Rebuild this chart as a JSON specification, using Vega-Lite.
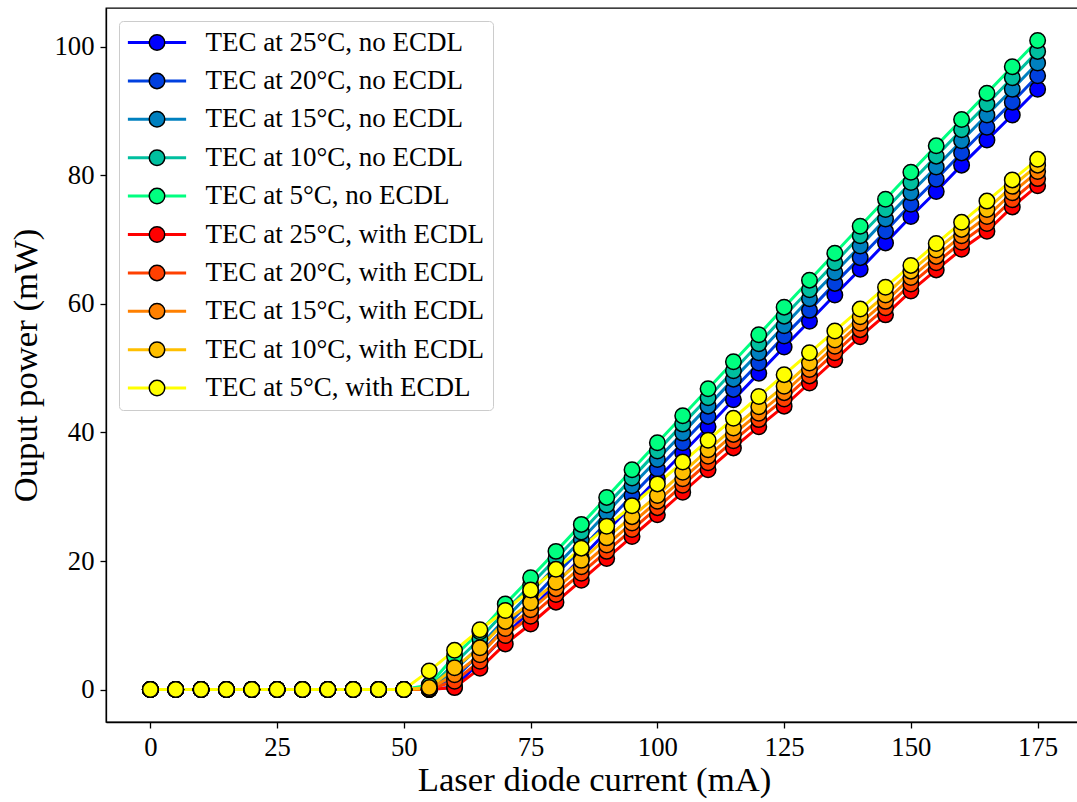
{
"$schema": "https://vega.github.io/schema/vega-lite/v6.json",
"width": 976,
"height": 714,
"autosize": {"type": "none"},
"padding": {"left": 106, "top": 8, "right": 0, "bottom": 80},
"background": "white",
"config": {
  "font": "Liberation Serif",
  "view": {"stroke": "black", "strokeWidth": 1.3},
  "axis": {"grid": false, "domainColor": "black", "domainWidth": 1.3, "tickColor": "black", "tickWidth": 1.3, "tickSize": 6, "labelFont": "Liberation Serif", "labelFontSize": 26.7, "labelColor": "black", "titleFont": "Liberation Serif", "titleFontSize": 34.7, "titleFontWeight": "normal", "titleColor": "black"}
},
"data": {"values": [
{"s":"TEC at 25°C, no ECDL","x":0,"y":0},{"s":"TEC at 25°C, no ECDL","x":5,"y":0},{"s":"TEC at 25°C, no ECDL","x":10,"y":0},{"s":"TEC at 25°C, no ECDL","x":15,"y":0},{"s":"TEC at 25°C, no ECDL","x":20,"y":0},{"s":"TEC at 25°C, no ECDL","x":25,"y":0},{"s":"TEC at 25°C, no ECDL","x":30,"y":0},{"s":"TEC at 25°C, no ECDL","x":35,"y":0},{"s":"TEC at 25°C, no ECDL","x":40,"y":0},{"s":"TEC at 25°C, no ECDL","x":45,"y":0},{"s":"TEC at 25°C, no ECDL","x":50,"y":0},{"s":"TEC at 25°C, no ECDL","x":55,"y":0},{"s":"TEC at 25°C, no ECDL","x":60,"y":0.4},{"s":"TEC at 25°C, no ECDL","x":65,"y":4.3},{"s":"TEC at 25°C, no ECDL","x":70,"y":8.4},{"s":"TEC at 25°C, no ECDL","x":75,"y":12.4},{"s":"TEC at 25°C, no ECDL","x":80,"y":16.5},{"s":"TEC at 25°C, no ECDL","x":85,"y":20.5},{"s":"TEC at 25°C, no ECDL","x":90,"y":24.6},{"s":"TEC at 25°C, no ECDL","x":95,"y":28.7},{"s":"TEC at 25°C, no ECDL","x":100,"y":32.8},{"s":"TEC at 25°C, no ECDL","x":105,"y":36.8},{"s":"TEC at 25°C, no ECDL","x":110,"y":40.9},{"s":"TEC at 25°C, no ECDL","x":115,"y":45.1},{"s":"TEC at 25°C, no ECDL","x":120,"y":49.2},{"s":"TEC at 25°C, no ECDL","x":125,"y":53.3},{"s":"TEC at 25°C, no ECDL","x":130,"y":57.3},{"s":"TEC at 25°C, no ECDL","x":135,"y":61.4},{"s":"TEC at 25°C, no ECDL","x":140,"y":65.4},{"s":"TEC at 25°C, no ECDL","x":145,"y":69.5},{"s":"TEC at 25°C, no ECDL","x":150,"y":73.6},{"s":"TEC at 25°C, no ECDL","x":155,"y":77.5},{"s":"TEC at 25°C, no ECDL","x":160,"y":81.6},{"s":"TEC at 25°C, no ECDL","x":165,"y":85.5},{"s":"TEC at 25°C, no ECDL","x":170,"y":89.4},{"s":"TEC at 25°C, no ECDL","x":175,"y":93.4},
{"s":"TEC at 20°C, no ECDL","x":0,"y":0},{"s":"TEC at 20°C, no ECDL","x":5,"y":0},{"s":"TEC at 20°C, no ECDL","x":10,"y":0},{"s":"TEC at 20°C, no ECDL","x":15,"y":0},{"s":"TEC at 20°C, no ECDL","x":20,"y":0},{"s":"TEC at 20°C, no ECDL","x":25,"y":0},{"s":"TEC at 20°C, no ECDL","x":30,"y":0},{"s":"TEC at 20°C, no ECDL","x":35,"y":0},{"s":"TEC at 20°C, no ECDL","x":40,"y":0},{"s":"TEC at 20°C, no ECDL","x":45,"y":0},{"s":"TEC at 20°C, no ECDL","x":50,"y":0},{"s":"TEC at 20°C, no ECDL","x":55,"y":0},{"s":"TEC at 20°C, no ECDL","x":60,"y":1.7},{"s":"TEC at 20°C, no ECDL","x":65,"y":5.6},{"s":"TEC at 20°C, no ECDL","x":70,"y":9.7},{"s":"TEC at 20°C, no ECDL","x":75,"y":13.8},{"s":"TEC at 20°C, no ECDL","x":80,"y":17.9},{"s":"TEC at 20°C, no ECDL","x":85,"y":21.9},{"s":"TEC at 20°C, no ECDL","x":90,"y":26.0},{"s":"TEC at 20°C, no ECDL","x":95,"y":30.2},{"s":"TEC at 20°C, no ECDL","x":100,"y":34.3},{"s":"TEC at 20°C, no ECDL","x":105,"y":38.4},{"s":"TEC at 20°C, no ECDL","x":110,"y":42.5},{"s":"TEC at 20°C, no ECDL","x":115,"y":46.7},{"s":"TEC at 20°C, no ECDL","x":120,"y":50.8},{"s":"TEC at 20°C, no ECDL","x":125,"y":55.0},{"s":"TEC at 20°C, no ECDL","x":130,"y":59.0},{"s":"TEC at 20°C, no ECDL","x":135,"y":63.2},{"s":"TEC at 20°C, no ECDL","x":140,"y":67.2},{"s":"TEC at 20°C, no ECDL","x":145,"y":71.3},{"s":"TEC at 20°C, no ECDL","x":150,"y":75.5},{"s":"TEC at 20°C, no ECDL","x":155,"y":79.4},{"s":"TEC at 20°C, no ECDL","x":160,"y":83.5},{"s":"TEC at 20°C, no ECDL","x":165,"y":87.5},{"s":"TEC at 20°C, no ECDL","x":170,"y":91.4},{"s":"TEC at 20°C, no ECDL","x":175,"y":95.5},
{"s":"TEC at 15°C, no ECDL","x":0,"y":0},{"s":"TEC at 15°C, no ECDL","x":5,"y":0},{"s":"TEC at 15°C, no ECDL","x":10,"y":0},{"s":"TEC at 15°C, no ECDL","x":15,"y":0},{"s":"TEC at 15°C, no ECDL","x":20,"y":0},{"s":"TEC at 15°C, no ECDL","x":25,"y":0},{"s":"TEC at 15°C, no ECDL","x":30,"y":0},{"s":"TEC at 15°C, no ECDL","x":35,"y":0},{"s":"TEC at 15°C, no ECDL","x":40,"y":0},{"s":"TEC at 15°C, no ECDL","x":45,"y":0},{"s":"TEC at 15°C, no ECDL","x":50,"y":0},{"s":"TEC at 15°C, no ECDL","x":55,"y":0},{"s":"TEC at 15°C, no ECDL","x":60,"y":3.0},{"s":"TEC at 15°C, no ECDL","x":65,"y":6.8},{"s":"TEC at 15°C, no ECDL","x":70,"y":11.0},{"s":"TEC at 15°C, no ECDL","x":75,"y":15.1},{"s":"TEC at 15°C, no ECDL","x":80,"y":19.2},{"s":"TEC at 15°C, no ECDL","x":85,"y":23.3},{"s":"TEC at 15°C, no ECDL","x":90,"y":27.5},{"s":"TEC at 15°C, no ECDL","x":95,"y":31.7},{"s":"TEC at 15°C, no ECDL","x":100,"y":35.8},{"s":"TEC at 15°C, no ECDL","x":105,"y":39.9},{"s":"TEC at 15°C, no ECDL","x":110,"y":44.1},{"s":"TEC at 15°C, no ECDL","x":115,"y":48.3},{"s":"TEC at 15°C, no ECDL","x":120,"y":52.4},{"s":"TEC at 15°C, no ECDL","x":125,"y":56.6},{"s":"TEC at 15°C, no ECDL","x":130,"y":60.8},{"s":"TEC at 15°C, no ECDL","x":135,"y":64.9},{"s":"TEC at 15°C, no ECDL","x":140,"y":69.0},{"s":"TEC at 15°C, no ECDL","x":145,"y":73.2},{"s":"TEC at 15°C, no ECDL","x":150,"y":77.3},{"s":"TEC at 15°C, no ECDL","x":155,"y":81.3},{"s":"TEC at 15°C, no ECDL","x":160,"y":85.4},{"s":"TEC at 15°C, no ECDL","x":165,"y":89.4},{"s":"TEC at 15°C, no ECDL","x":170,"y":93.4},{"s":"TEC at 15°C, no ECDL","x":175,"y":97.5},
{"s":"TEC at 10°C, no ECDL","x":0,"y":0},{"s":"TEC at 10°C, no ECDL","x":5,"y":0},{"s":"TEC at 10°C, no ECDL","x":10,"y":0},{"s":"TEC at 10°C, no ECDL","x":15,"y":0},{"s":"TEC at 10°C, no ECDL","x":20,"y":0},{"s":"TEC at 10°C, no ECDL","x":25,"y":0},{"s":"TEC at 10°C, no ECDL","x":30,"y":0},{"s":"TEC at 10°C, no ECDL","x":35,"y":0},{"s":"TEC at 10°C, no ECDL","x":40,"y":0},{"s":"TEC at 10°C, no ECDL","x":45,"y":0},{"s":"TEC at 10°C, no ECDL","x":50,"y":0},{"s":"TEC at 10°C, no ECDL","x":55,"y":0.2},{"s":"TEC at 10°C, no ECDL","x":60,"y":4.1},{"s":"TEC at 10°C, no ECDL","x":65,"y":7.9},{"s":"TEC at 10°C, no ECDL","x":70,"y":12.2},{"s":"TEC at 10°C, no ECDL","x":75,"y":16.3},{"s":"TEC at 10°C, no ECDL","x":80,"y":20.4},{"s":"TEC at 10°C, no ECDL","x":85,"y":24.5},{"s":"TEC at 10°C, no ECDL","x":90,"y":28.7},{"s":"TEC at 10°C, no ECDL","x":95,"y":32.9},{"s":"TEC at 10°C, no ECDL","x":100,"y":37.1},{"s":"TEC at 10°C, no ECDL","x":105,"y":41.3},{"s":"TEC at 10°C, no ECDL","x":110,"y":45.4},{"s":"TEC at 10°C, no ECDL","x":115,"y":49.6},{"s":"TEC at 10°C, no ECDL","x":120,"y":53.8},{"s":"TEC at 10°C, no ECDL","x":125,"y":58.1},{"s":"TEC at 10°C, no ECDL","x":130,"y":62.2},{"s":"TEC at 10°C, no ECDL","x":135,"y":66.4},{"s":"TEC at 10°C, no ECDL","x":140,"y":70.6},{"s":"TEC at 10°C, no ECDL","x":145,"y":74.7},{"s":"TEC at 10°C, no ECDL","x":150,"y":78.9},{"s":"TEC at 10°C, no ECDL","x":155,"y":83.0},{"s":"TEC at 10°C, no ECDL","x":160,"y":87.1},{"s":"TEC at 10°C, no ECDL","x":165,"y":91.1},{"s":"TEC at 10°C, no ECDL","x":170,"y":95.2},{"s":"TEC at 10°C, no ECDL","x":175,"y":99.3},
{"s":"TEC at 5°C, no ECDL","x":0,"y":0},{"s":"TEC at 5°C, no ECDL","x":5,"y":0},{"s":"TEC at 5°C, no ECDL","x":10,"y":0},{"s":"TEC at 5°C, no ECDL","x":15,"y":0},{"s":"TEC at 5°C, no ECDL","x":20,"y":0},{"s":"TEC at 5°C, no ECDL","x":25,"y":0},{"s":"TEC at 5°C, no ECDL","x":30,"y":0},{"s":"TEC at 5°C, no ECDL","x":35,"y":0},{"s":"TEC at 5°C, no ECDL","x":40,"y":0},{"s":"TEC at 5°C, no ECDL","x":45,"y":0},{"s":"TEC at 5°C, no ECDL","x":50,"y":0},{"s":"TEC at 5°C, no ECDL","x":55,"y":0.7},{"s":"TEC at 5°C, no ECDL","x":60,"y":5.2},{"s":"TEC at 5°C, no ECDL","x":65,"y":9.0},{"s":"TEC at 5°C, no ECDL","x":70,"y":13.3},{"s":"TEC at 5°C, no ECDL","x":75,"y":17.4},{"s":"TEC at 5°C, no ECDL","x":80,"y":21.5},{"s":"TEC at 5°C, no ECDL","x":85,"y":25.7},{"s":"TEC at 5°C, no ECDL","x":90,"y":29.9},{"s":"TEC at 5°C, no ECDL","x":95,"y":34.2},{"s":"TEC at 5°C, no ECDL","x":100,"y":38.4},{"s":"TEC at 5°C, no ECDL","x":105,"y":42.6},{"s":"TEC at 5°C, no ECDL","x":110,"y":46.8},{"s":"TEC at 5°C, no ECDL","x":115,"y":51.0},{"s":"TEC at 5°C, no ECDL","x":120,"y":55.2},{"s":"TEC at 5°C, no ECDL","x":125,"y":59.5},{"s":"TEC at 5°C, no ECDL","x":130,"y":63.7},{"s":"TEC at 5°C, no ECDL","x":135,"y":67.9},{"s":"TEC at 5°C, no ECDL","x":140,"y":72.1},{"s":"TEC at 5°C, no ECDL","x":145,"y":76.3},{"s":"TEC at 5°C, no ECDL","x":150,"y":80.5},{"s":"TEC at 5°C, no ECDL","x":155,"y":84.6},{"s":"TEC at 5°C, no ECDL","x":160,"y":88.7},{"s":"TEC at 5°C, no ECDL","x":165,"y":92.8},{"s":"TEC at 5°C, no ECDL","x":170,"y":96.9},{"s":"TEC at 5°C, no ECDL","x":175,"y":101.0},
{"s":"TEC at 25°C, with ECDL","x":0,"y":0},{"s":"TEC at 25°C, with ECDL","x":5,"y":0},{"s":"TEC at 25°C, with ECDL","x":10,"y":0},{"s":"TEC at 25°C, with ECDL","x":15,"y":0},{"s":"TEC at 25°C, with ECDL","x":20,"y":0},{"s":"TEC at 25°C, with ECDL","x":25,"y":0},{"s":"TEC at 25°C, with ECDL","x":30,"y":0},{"s":"TEC at 25°C, with ECDL","x":35,"y":0},{"s":"TEC at 25°C, with ECDL","x":40,"y":0},{"s":"TEC at 25°C, with ECDL","x":45,"y":0},{"s":"TEC at 25°C, with ECDL","x":50,"y":0},{"s":"TEC at 25°C, with ECDL","x":55,"y":0},{"s":"TEC at 25°C, with ECDL","x":60,"y":0.3},{"s":"TEC at 25°C, with ECDL","x":65,"y":3.3},{"s":"TEC at 25°C, with ECDL","x":70,"y":7.1},{"s":"TEC at 25°C, with ECDL","x":75,"y":10.2},{"s":"TEC at 25°C, with ECDL","x":80,"y":13.6},{"s":"TEC at 25°C, with ECDL","x":85,"y":17.0},{"s":"TEC at 25°C, with ECDL","x":90,"y":20.4},{"s":"TEC at 25°C, with ECDL","x":95,"y":23.8},{"s":"TEC at 25°C, with ECDL","x":100,"y":27.2},{"s":"TEC at 25°C, with ECDL","x":105,"y":30.7},{"s":"TEC at 25°C, with ECDL","x":110,"y":34.2},{"s":"TEC at 25°C, with ECDL","x":115,"y":37.6},{"s":"TEC at 25°C, with ECDL","x":120,"y":40.9},{"s":"TEC at 25°C, with ECDL","x":125,"y":44.1},{"s":"TEC at 25°C, with ECDL","x":130,"y":47.7},{"s":"TEC at 25°C, with ECDL","x":135,"y":51.3},{"s":"TEC at 25°C, with ECDL","x":140,"y":54.9},{"s":"TEC at 25°C, with ECDL","x":145,"y":58.3},{"s":"TEC at 25°C, with ECDL","x":150,"y":62.0},{"s":"TEC at 25°C, with ECDL","x":155,"y":65.3},{"s":"TEC at 25°C, with ECDL","x":160,"y":68.5},{"s":"TEC at 25°C, with ECDL","x":165,"y":71.3},{"s":"TEC at 25°C, with ECDL","x":170,"y":75.1},{"s":"TEC at 25°C, with ECDL","x":175,"y":78.4},
{"s":"TEC at 20°C, with ECDL","x":0,"y":0},{"s":"TEC at 20°C, with ECDL","x":5,"y":0},{"s":"TEC at 20°C, with ECDL","x":10,"y":0},{"s":"TEC at 20°C, with ECDL","x":15,"y":0},{"s":"TEC at 20°C, with ECDL","x":20,"y":0},{"s":"TEC at 20°C, with ECDL","x":25,"y":0},{"s":"TEC at 20°C, with ECDL","x":30,"y":0},{"s":"TEC at 20°C, with ECDL","x":35,"y":0},{"s":"TEC at 20°C, with ECDL","x":40,"y":0},{"s":"TEC at 20°C, with ECDL","x":45,"y":0},{"s":"TEC at 20°C, with ECDL","x":50,"y":0},{"s":"TEC at 20°C, with ECDL","x":55,"y":0},{"s":"TEC at 20°C, with ECDL","x":60,"y":1.3},{"s":"TEC at 20°C, with ECDL","x":65,"y":4.4},{"s":"TEC at 20°C, with ECDL","x":70,"y":8.4},{"s":"TEC at 20°C, with ECDL","x":75,"y":11.4},{"s":"TEC at 20°C, with ECDL","x":80,"y":14.8},{"s":"TEC at 20°C, with ECDL","x":85,"y":18.1},{"s":"TEC at 20°C, with ECDL","x":90,"y":21.5},{"s":"TEC at 20°C, with ECDL","x":95,"y":24.9},{"s":"TEC at 20°C, with ECDL","x":100,"y":28.3},{"s":"TEC at 20°C, with ECDL","x":105,"y":31.8},{"s":"TEC at 20°C, with ECDL","x":110,"y":35.3},{"s":"TEC at 20°C, with ECDL","x":115,"y":38.7},{"s":"TEC at 20°C, with ECDL","x":120,"y":42.0},{"s":"TEC at 20°C, with ECDL","x":125,"y":45.2},{"s":"TEC at 20°C, with ECDL","x":130,"y":48.8},{"s":"TEC at 20°C, with ECDL","x":135,"y":52.4},{"s":"TEC at 20°C, with ECDL","x":140,"y":56.0},{"s":"TEC at 20°C, with ECDL","x":145,"y":59.4},{"s":"TEC at 20°C, with ECDL","x":150,"y":63.1},{"s":"TEC at 20°C, with ECDL","x":155,"y":66.4},{"s":"TEC at 20°C, with ECDL","x":160,"y":69.6},{"s":"TEC at 20°C, with ECDL","x":165,"y":72.5},{"s":"TEC at 20°C, with ECDL","x":170,"y":76.2},{"s":"TEC at 20°C, with ECDL","x":175,"y":79.5},
{"s":"TEC at 15°C, with ECDL","x":0,"y":0},{"s":"TEC at 15°C, with ECDL","x":5,"y":0},{"s":"TEC at 15°C, with ECDL","x":10,"y":0},{"s":"TEC at 15°C, with ECDL","x":15,"y":0},{"s":"TEC at 15°C, with ECDL","x":20,"y":0},{"s":"TEC at 15°C, with ECDL","x":25,"y":0},{"s":"TEC at 15°C, with ECDL","x":30,"y":0},{"s":"TEC at 15°C, with ECDL","x":35,"y":0},{"s":"TEC at 15°C, with ECDL","x":40,"y":0},{"s":"TEC at 15°C, with ECDL","x":45,"y":0},{"s":"TEC at 15°C, with ECDL","x":50,"y":0},{"s":"TEC at 15°C, with ECDL","x":55,"y":0.1},{"s":"TEC at 15°C, with ECDL","x":60,"y":2.3},{"s":"TEC at 15°C, with ECDL","x":65,"y":5.4},{"s":"TEC at 15°C, with ECDL","x":70,"y":9.5},{"s":"TEC at 15°C, with ECDL","x":75,"y":12.4},{"s":"TEC at 15°C, with ECDL","x":80,"y":15.7},{"s":"TEC at 15°C, with ECDL","x":85,"y":19.1},{"s":"TEC at 15°C, with ECDL","x":90,"y":22.5},{"s":"TEC at 15°C, with ECDL","x":95,"y":25.9},{"s":"TEC at 15°C, with ECDL","x":100,"y":29.3},{"s":"TEC at 15°C, with ECDL","x":105,"y":32.8},{"s":"TEC at 15°C, with ECDL","x":110,"y":36.3},{"s":"TEC at 15°C, with ECDL","x":115,"y":39.7},{"s":"TEC at 15°C, with ECDL","x":120,"y":43.0},{"s":"TEC at 15°C, with ECDL","x":125,"y":46.2},{"s":"TEC at 15°C, with ECDL","x":130,"y":49.8},{"s":"TEC at 15°C, with ECDL","x":135,"y":53.4},{"s":"TEC at 15°C, with ECDL","x":140,"y":57.0},{"s":"TEC at 15°C, with ECDL","x":145,"y":60.4},{"s":"TEC at 15°C, with ECDL","x":150,"y":64.1},{"s":"TEC at 15°C, with ECDL","x":155,"y":67.4},{"s":"TEC at 15°C, with ECDL","x":160,"y":70.6},{"s":"TEC at 15°C, with ECDL","x":165,"y":73.6},{"s":"TEC at 15°C, with ECDL","x":170,"y":77.3},{"s":"TEC at 15°C, with ECDL","x":175,"y":80.6},
{"s":"TEC at 10°C, with ECDL","x":0,"y":0},{"s":"TEC at 10°C, with ECDL","x":5,"y":0},{"s":"TEC at 10°C, with ECDL","x":10,"y":0},{"s":"TEC at 10°C, with ECDL","x":15,"y":0},{"s":"TEC at 10°C, with ECDL","x":20,"y":0},{"s":"TEC at 10°C, with ECDL","x":25,"y":0},{"s":"TEC at 10°C, with ECDL","x":30,"y":0},{"s":"TEC at 10°C, with ECDL","x":35,"y":0},{"s":"TEC at 10°C, with ECDL","x":40,"y":0},{"s":"TEC at 10°C, with ECDL","x":45,"y":0},{"s":"TEC at 10°C, with ECDL","x":50,"y":0},{"s":"TEC at 10°C, with ECDL","x":55,"y":0.3},{"s":"TEC at 10°C, with ECDL","x":60,"y":3.4},{"s":"TEC at 10°C, with ECDL","x":65,"y":6.5},{"s":"TEC at 10°C, with ECDL","x":70,"y":10.6},{"s":"TEC at 10°C, with ECDL","x":75,"y":13.5},{"s":"TEC at 10°C, with ECDL","x":80,"y":16.7},{"s":"TEC at 10°C, with ECDL","x":85,"y":20.1},{"s":"TEC at 10°C, with ECDL","x":90,"y":23.6},{"s":"TEC at 10°C, with ECDL","x":95,"y":26.9},{"s":"TEC at 10°C, with ECDL","x":100,"y":30.2},{"s":"TEC at 10°C, with ECDL","x":105,"y":33.8},{"s":"TEC at 10°C, with ECDL","x":110,"y":37.3},{"s":"TEC at 10°C, with ECDL","x":115,"y":40.7},{"s":"TEC at 10°C, with ECDL","x":120,"y":44.0},{"s":"TEC at 10°C, with ECDL","x":125,"y":47.2},{"s":"TEC at 10°C, with ECDL","x":130,"y":50.8},{"s":"TEC at 10°C, with ECDL","x":135,"y":54.4},{"s":"TEC at 10°C, with ECDL","x":140,"y":58.0},{"s":"TEC at 10°C, with ECDL","x":145,"y":61.4},{"s":"TEC at 10°C, with ECDL","x":150,"y":65.1},{"s":"TEC at 10°C, with ECDL","x":155,"y":68.4},{"s":"TEC at 10°C, with ECDL","x":160,"y":71.6},{"s":"TEC at 10°C, with ECDL","x":165,"y":74.7},{"s":"TEC at 10°C, with ECDL","x":170,"y":78.3},{"s":"TEC at 10°C, with ECDL","x":175,"y":81.6},
{"s":"TEC at 5°C, with ECDL","x":0,"y":0},{"s":"TEC at 5°C, with ECDL","x":5,"y":0},{"s":"TEC at 5°C, with ECDL","x":10,"y":0},{"s":"TEC at 5°C, with ECDL","x":15,"y":0},{"s":"TEC at 5°C, with ECDL","x":20,"y":0},{"s":"TEC at 5°C, with ECDL","x":25,"y":0},{"s":"TEC at 5°C, with ECDL","x":30,"y":0},{"s":"TEC at 5°C, with ECDL","x":35,"y":0},{"s":"TEC at 5°C, with ECDL","x":40,"y":0},{"s":"TEC at 5°C, with ECDL","x":45,"y":0},{"s":"TEC at 5°C, with ECDL","x":50,"y":0},{"s":"TEC at 5°C, with ECDL","x":55,"y":2.9},{"s":"TEC at 5°C, with ECDL","x":60,"y":6.1},{"s":"TEC at 5°C, with ECDL","x":65,"y":9.3},{"s":"TEC at 5°C, with ECDL","x":70,"y":12.3},{"s":"TEC at 5°C, with ECDL","x":75,"y":15.5},{"s":"TEC at 5°C, with ECDL","x":80,"y":18.7},{"s":"TEC at 5°C, with ECDL","x":85,"y":22.0},{"s":"TEC at 5°C, with ECDL","x":90,"y":25.4},{"s":"TEC at 5°C, with ECDL","x":95,"y":28.6},{"s":"TEC at 5°C, with ECDL","x":100,"y":32.0},{"s":"TEC at 5°C, with ECDL","x":105,"y":35.4},{"s":"TEC at 5°C, with ECDL","x":110,"y":38.8},{"s":"TEC at 5°C, with ECDL","x":115,"y":42.2},{"s":"TEC at 5°C, with ECDL","x":120,"y":45.6},{"s":"TEC at 5°C, with ECDL","x":125,"y":49.0},{"s":"TEC at 5°C, with ECDL","x":130,"y":52.4},{"s":"TEC at 5°C, with ECDL","x":135,"y":55.8},{"s":"TEC at 5°C, with ECDL","x":140,"y":59.2},{"s":"TEC at 5°C, with ECDL","x":145,"y":62.6},{"s":"TEC at 5°C, with ECDL","x":150,"y":66.0},{"s":"TEC at 5°C, with ECDL","x":155,"y":69.4},{"s":"TEC at 5°C, with ECDL","x":160,"y":72.7},{"s":"TEC at 5°C, with ECDL","x":165,"y":76.0},{"s":"TEC at 5°C, with ECDL","x":170,"y":79.3},{"s":"TEC at 5°C, with ECDL","x":175,"y":82.5}
]},
"encoding": {
  "x": {"field": "x", "type": "quantitative", "scale": {"domain": [-8.75, 183.75], "nice": false, "zero": false}, "axis": {"values": [0, 25, 50, 75, 100, 125, 150, 175], "title": "Laser diode current (mA)", "labelPadding": 6, "titlePadding": 3}},
  "y": {"field": "y", "type": "quantitative", "scale": {"domain": [-5.05, 106.05], "nice": false, "zero": false}, "axis": {"values": [0, 20, 40, 60, 80, 100], "title": "Ouput power (mW)", "labelPadding": 6, "titlePadding": 10}}
},
"layer": [
  {
    "mark": {"type": "line", "strokeWidth": 3},
    "encoding": {
      "color": {"field": "s", "type": "nominal",
        "scale": {"domain": ["TEC at 25°C, no ECDL", "TEC at 20°C, no ECDL", "TEC at 15°C, no ECDL", "TEC at 10°C, no ECDL", "TEC at 5°C, no ECDL", "TEC at 25°C, with ECDL", "TEC at 20°C, with ECDL", "TEC at 15°C, with ECDL", "TEC at 10°C, with ECDL", "TEC at 5°C, with ECDL"],
                  "range": ["#0000ff", "#0040df", "#0080bf", "#00bf9f", "#00ff80", "#ff0000", "#ff4000", "#ff8000", "#ffbf00", "#ffff00"]},
        "legend": {"orient": "top-left", "offset": 13, "title": null, "symbolType": "M-4,0L4,0", "symbolSize": 212, "symbolStrokeWidth": 3, "symbolOffset": 16.5, "labelOffset": 35, "labelFont": "Liberation Serif", "labelFontSize": 27, "labelColor": "black", "labelLimit": 0, "rowPadding": 10.4, "padding": 8, "fillColor": "rgba(255,255,255,0.8)", "strokeColor": "#cccccc", "cornerRadius": 4, "zindex": 1}
      }
    }
  },
  {
    "mark": {"type": "point", "shape": "circle", "filled": true, "size": 240, "strokeWidth": 1.5, "stroke": "black", "opacity": 1},
    "encoding": {
      "fill": {"field": "s", "type": "nominal",
        "scale": {"domain": ["TEC at 25°C, no ECDL", "TEC at 20°C, no ECDL", "TEC at 15°C, no ECDL", "TEC at 10°C, no ECDL", "TEC at 5°C, no ECDL", "TEC at 25°C, with ECDL", "TEC at 20°C, with ECDL", "TEC at 15°C, with ECDL", "TEC at 10°C, with ECDL", "TEC at 5°C, with ECDL"],
                  "range": ["#0000ff", "#0040df", "#0080bf", "#00bf9f", "#00ff80", "#ff0000", "#ff4000", "#ff8000", "#ffbf00", "#ffff00"]},
        "legend": {"orient": "none", "legendX": 13, "legendY": 13, "title": null, "symbolType": "circle", "symbolSize": 240, "symbolStrokeColor": "black", "symbolStrokeWidth": 1.5, "symbolOpacity": 1, "symbolOffset": 16.5, "labelOffset": 35, "labelFont": "Liberation Serif", "labelFontSize": 27, "labelOpacity": 0, "labelLimit": 0, "rowPadding": 10.4, "padding": 8, "zindex": 2}
      }
    }
  }
]
}
